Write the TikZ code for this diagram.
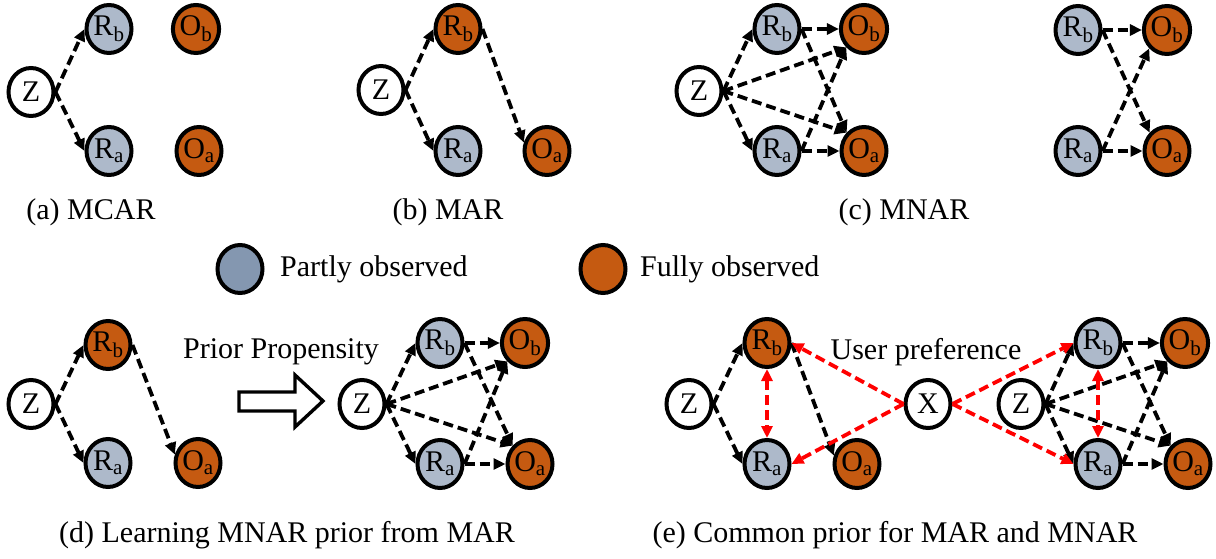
\documentclass[tikz,border=0pt]{standalone}
\usepackage{fontspec}
\setmainfont{Liberation Serif}
\usetikzlibrary{shapes.geometric,arrows.meta}
\definecolor{partly}{HTML}{ADB9CA}
\definecolor{partlykey}{HTML}{8497B0}
\definecolor{fully}{HTML}{C55A11}
\begin{document}
\begin{tikzpicture}[x=1pt,y=-1pt,
  var/.style={ellipse, draw, line width=4pt, minimum width=45pt, minimum height=48pt,
              inner sep=0pt, font=\fontsize{30}{31}\selectfont},
  latent/.style={var, fill=white},
  part/.style={var, fill=partly},
  full/.style={var, fill=fully},
  dep/.style={line width=3.8pt, dash pattern=on 10pt off 5pt, -{Triangle[length=12pt,width=11pt]}},
  reddep/.style={dep, draw=red},
  twodep/.style={dep, draw=red, {Triangle[length=12pt,width=11pt]}-{Triangle[length=12pt,width=11pt]}},
  txt/.style={font=\fontsize{30}{31}\selectfont, inner sep=0pt}]
\useasboundingbox (0,0) rectangle (1216,559);

% (a) MCAR
\node[latent] (Za) at (31,92) {Z};
\node[part] (Rba) at (109,29) {R\textsubscript{b}};
\node[part] (Raa) at (109,151) {R\textsubscript{a}};
\node[full] (Oba) at (196,29) {O\textsubscript{b}};
\node[full] (Oaa) at (199,151) {O\textsubscript{a}};
\draw[dep] (Za.east) -- (Rba.west);
\draw[dep] (Za.east) -- (Raa.west);
\node[txt] (capa) at (91,212) {(a) MCAR};

% (b) MAR
\node[latent] (Zb) at (381,90) {Z};
\node[full] (Rbb) at (458,29) {R\textsubscript{b}};
\node[part] (Rab) at (458,151) {R\textsubscript{a}};
\node[full] (Oab) at (547,151) {O\textsubscript{a}};
\draw[dep] (Zb.east) -- (Rbb.west);
\draw[dep] (Zb.east) -- (Rab.west);
\draw[dep] (Rbb.east) -- (Oab.160);
\node[txt] (capb) at (448,212) {(b) MAR};

% (c) MNAR, with and without Z
\node[latent] (Zc) at (699,91) {Z};
\node[part] (Rbc) at (777,29) {R\textsubscript{b}};
\node[part] (Rac) at (777,151) {R\textsubscript{a}};
\node[full] (Obc) at (864,29) {O\textsubscript{b}};
\node[full] (Oac) at (864,151) {O\textsubscript{a}};
\draw[dep] (Zc.east) -- (Rbc.west);
\draw[dep] (Zc.east) -- (Rac.west);
\draw[dep] (Zc.east) -- (Obc.south west);
\draw[dep] (Zc.east) -- (Oac.north west);
\draw[dep] (Rbc.east) -- (Obc.west);
\draw[dep] (Rac.east) -- (Oac.west);
\draw[dep] (Rbc.east) -- (Oac.north west);
\draw[dep] (Rac.east) -- (Obc.south west);

\node[part] (Rbc2) at (1078,30) {R\textsubscript{b}};
\node[part] (Rac2) at (1078,151) {R\textsubscript{a}};
\node[full] (Obc2) at (1167,30) {O\textsubscript{b}};
\node[full] (Oac2) at (1167,151) {O\textsubscript{a}};
\draw[dep] (Rbc2.east) -- (Obc2.west);
\draw[dep] (Rac2.east) -- (Oac2.west);
\draw[dep] (Rbc2.east) -- (Oac2.north west);
\draw[dep] (Rac2.east) -- (Obc2.south west);
\node[txt] (capc) at (904,212) {(c) MNAR};

% legend
\node[var, fill=partlykey] (keyp) at (240,269) {};
\node[txt, anchor=west] (keyptxt) at (280,269) {Partly observed};
\node[var, fill=fully] (keyf) at (603,269) {};
\node[txt, anchor=west] (keyftxt) at (640,269) {Fully observed};

% (d) learning MNAR prior from MAR
\node[latent] (Zd) at (31,404) {Z};
\node[full] (Rbd) at (108,345) {R\textsubscript{b}};
\node[part] (Rad) at (108,463) {R\textsubscript{a}};
\node[full] (Oad) at (198,463) {O\textsubscript{a}};
\draw[dep] (Zd.east) -- (Rbd.west);
\draw[dep] (Zd.east) -- (Rad.west);
\draw[dep] (Rbd.east) -- (Oad.160);

\node[txt] (prior) at (281,352) {Prior Propensity};
\draw[line width=3.4pt, fill=white, line join=miter]
  (239,392) -- (295,392) -- (295,375) -- (323,401) -- (295,427) -- (295,411) -- (239,411) -- cycle;

\node[latent] (Zd2) at (362,404) {Z};
\node[part] (Rbd2) at (440,343) {R\textsubscript{b}};
\node[part] (Rad2) at (440,464) {R\textsubscript{a}};
\node[full] (Obd2) at (525,343) {O\textsubscript{b}};
\node[full] (Oad2) at (530,464) {O\textsubscript{a}};
\draw[dep] (Zd2.east) -- (Rbd2.west);
\draw[dep] (Zd2.east) -- (Rad2.west);
\draw[dep] (Zd2.east) -- (Obd2.south west);
\draw[dep] (Zd2.east) -- (Oad2.north west);
\draw[dep] (Rbd2.east) -- (Obd2.west);
\draw[dep] (Rad2.east) -- (Oad2.west);
\draw[dep] (Rbd2.east) -- (Oad2.north west);
\draw[dep] (Rad2.east) -- (Obd2.south west);
\node[txt] (capd) at (287,535) {(d) Learning MNAR prior from MAR};

% (e) common prior for MAR and MNAR
\node[latent] (Ze) at (689,404) {Z};
\node[full] (Rbe) at (767,343) {R\textsubscript{b}};
\node[part] (Rae) at (767,464) {R\textsubscript{a}};
\node[full] (Oae) at (857,464) {O\textsubscript{a}};
\node[latent] (X) at (928,404) {X};
\node[latent] (Ze2) at (1021,404) {Z};
\node[part] (Rbe2) at (1098,343) {R\textsubscript{b}};
\node[part] (Rae2) at (1098,464) {R\textsubscript{a}};
\node[full] (Obe2) at (1185,343) {O\textsubscript{b}};
\node[full] (Oae2) at (1188,464) {O\textsubscript{a}};
\node[txt] (pref) at (926,352) {User preference};

\draw[dep] (Ze.east) -- (Rbe.west);
\draw[dep] (Ze.east) -- (Rae.west);
\draw[dep] (Rbe.east) -- (Oae.160);

\draw[dep] (Ze2.east) -- (Rbe2.west);
\draw[dep] (Ze2.east) -- (Rae2.west);
\draw[dep] (Ze2.east) -- (Obe2.south west);
\draw[dep] (Ze2.east) -- (Oae2.north west);
\draw[dep] (Rbe2.east) -- (Obe2.west);
\draw[dep] (Rae2.east) -- (Oae2.west);
\draw[dep] (Rbe2.east) -- (Oae2.north west);
\draw[dep] (Rae2.east) -- (Obe2.south west);

\draw[twodep] (Rbe.south) -- (Rae.north);
\draw[twodep] (Rbe2.south) -- (Rae2.north);
\draw[reddep] (X.west) -- (Rbe.east);
\draw[reddep] (X.west) -- (Rae.east);
\draw[reddep] (X.east) -- (Rbe2.west);
\draw[reddep] (X.east) -- (Rae2.west);
\node[txt] (cape) at (895,535) {(e) Common prior for MAR and MNAR};
\end{tikzpicture}
\end{document}
